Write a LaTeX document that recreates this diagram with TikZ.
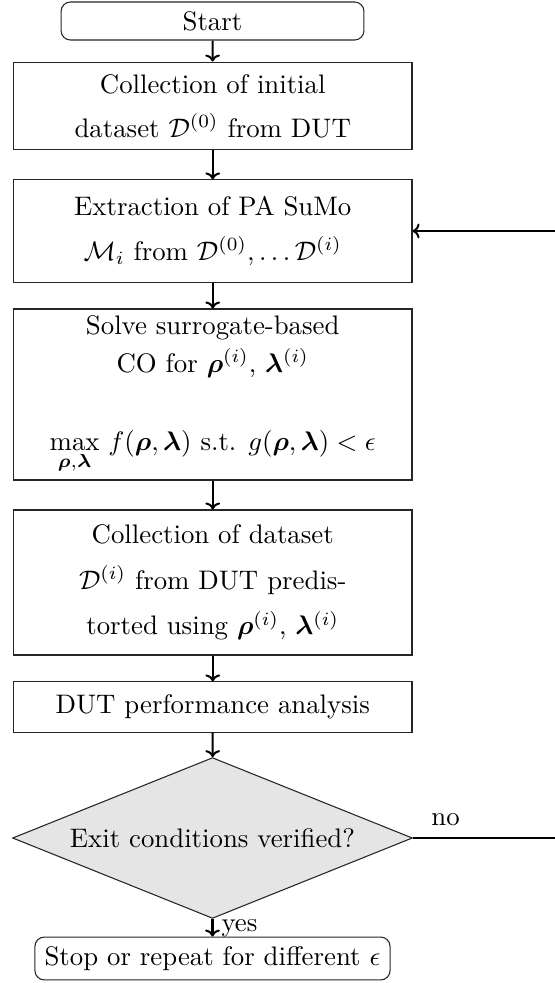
\documentclass[tikz,border=0pt]{standalone}
\usepackage{amsmath,bm}
\usetikzlibrary{shapes.geometric,arrows.meta}
\begin{document}
\begin{tikzpicture}[x=0.3731pt,y=-0.3731pt,
  box/.style={draw=black!85, line width=0.4pt, align=center, minimum width=148.7pt, inner sep=0pt},
  term/.style={draw=black!85, line width=0.4pt, rounded corners=3.5pt, align=center, inner sep=0pt},
  dec/.style={draw=black!85, line width=0.4pt, diamond, fill=black!10, aspect=2.5, inner sep=0pt, minimum width=149.2pt, minimum height=60pt},
  conn/.style={draw, line width=0.75pt, -{To[length=2.6pt,width=5.5pt]}},
  lbl/.style={inner sep=0pt}]
\useasboundingbox (0,0) rectangle (555,983);
\clip (0,0) rectangle (555,983);

\node[term, minimum width=113pt, minimum height=14.2pt] (start) at (212.5,21) {Start};
\node[box, minimum height=32.8pt] (b1) at (212.75,106) {Collection of initial\\[4.4pt] dataset $\mathcal{D}^{(0)}$ from DUT};
\node[box, minimum height=38.1pt] (b2) at (212.75,231) {Extraction of PA SuMo\\[4.8pt] $\mathcal{M}_i$ from $\mathcal{D}^{(0)},\ldots\mathcal{D}^{(i)}$};
\node[box, minimum height=63.8pt] (b3) at (212.75,394.5) {Solve surrogate-based\\[2.4pt] CO for $\bm{\rho}^{(i)}$, $\bm{\lambda}^{(i)}$\\[16.9pt] $\displaystyle\max_{\bm{\rho},\bm{\lambda}}\, f(\bm{\rho},\bm{\lambda})$ s.t. $g(\bm{\rho},\bm{\lambda})<\epsilon$};
\node[box, minimum height=54.1pt] (b4) at (212.75,582.5) {Collection of dataset\\[5pt] $\mathcal{D}^{(i)}$ from DUT predis-\\[5pt] torted using $\bm{\rho}^{(i)}$, $\bm{\lambda}^{(i)}$};
\node[box, minimum height=18.7pt] (b5) at (212.75,707) {DUT performance analysis};
\node[dec] (exit) at (212.5,838) {Exit conditions verified?};
\node[term, minimum width=132.5pt, minimum height=16pt] (stop) at (212.5,958.5) {Stop or repeat for different $\epsilon$};

\coordinate (loop) at (565,838);

\draw[conn] (start) -- (b1);
\draw[conn] (b1) -- (b2);
\draw[conn] (b2) -- (b3);
\draw[conn] (b3) -- (b4);
\draw[conn] (b4) -- (b5);
\draw[conn] (b5) -- (exit);
\draw[conn] (exit) -- node[lbl, pos=0, anchor=base west, xshift=3pt, yshift=-4.8pt] {yes} (stop);
\draw[conn] (exit.east) -- node[lbl, pos=0, anchor=base west, xshift=6.5pt, yshift=4.5pt] {no} (loop) |- (b2.east);
\end{tikzpicture}
\end{document}
